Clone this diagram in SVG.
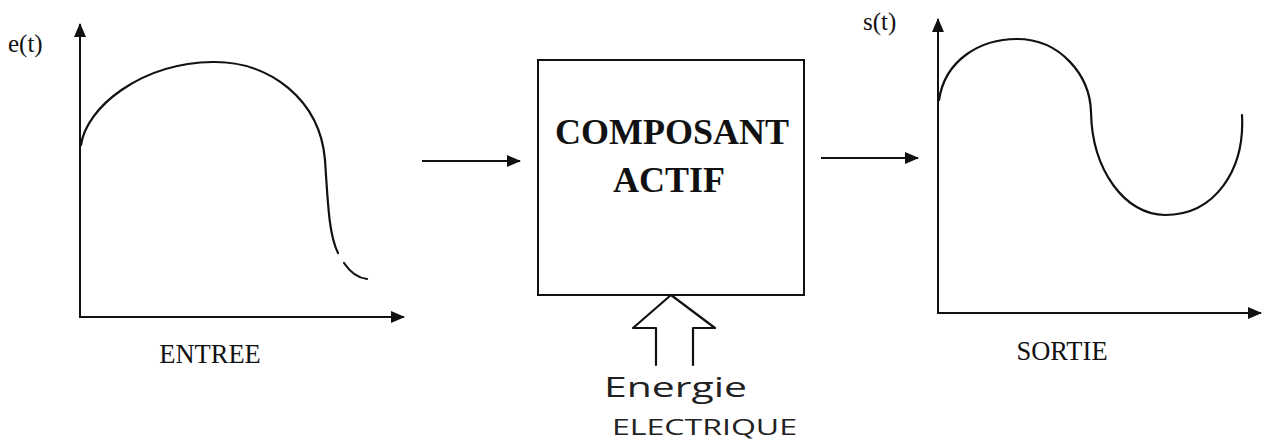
<svg xmlns="http://www.w3.org/2000/svg" width="1265" height="442" viewBox="0 0 1265 442">
  <style>
    .ln{fill:none;stroke:#111;stroke-width:2.2;stroke-linecap:round;stroke-linejoin:round}
    .ax{fill:none;stroke:#111;stroke-width:2}
    .serif{font-family:"Liberation Serif","Times New Roman",serif;fill:#111}
    .hand{font-family:"Open Sans","DejaVu Sans",sans-serif;fill:#222}
  </style>
  <defs>
    <marker id="ah" viewBox="0 0 14 12" refX="13" refY="6" markerWidth="14" markerHeight="12" markerUnits="userSpaceOnUse" orient="auto">
      <path d="M0,0 L14,6 L0,12 Z" fill="#111"/>
    </marker>
  </defs>
  <rect width="1265" height="442" fill="#fff"/>

  <g id="entree-graph">
    <line class="ax" x1="80" y1="318" x2="80" y2="24" marker-end="url(#ah)"/>
    <line class="ax" x1="80" y1="317" x2="404" y2="317" marker-end="url(#ah)"/>
    <text class="serif" x="8" y="52" font-size="25">e(t)</text>
    <path class="ln" d="M81,145 C86,108 140,63 213,62 C270,61 320,100 325,160 C328,205 329,235 338,253"/>
    <path class="ln" d="M344,263 C350,272 358,278 367,279"/>
    <text class="serif" x="210" y="363" font-size="26.5" text-anchor="middle">ENTREE</text>
  </g>

  <g id="composant">
    <rect x="538" y="60" width="266" height="235" fill="none" stroke="#111" stroke-width="2"/>
    <text class="serif" x="672" y="144" font-size="36" font-weight="bold" text-anchor="middle">COMPOSANT</text>
    <text class="serif" x="669" y="192" font-size="36" font-weight="bold" text-anchor="middle">ACTIF</text>
  </g>

  <g id="energie">
    <path class="ln" stroke-width="1.8" d="M656,365 L656,328 L633,328 L671,295 L715,328 L693,328 L693,365"/>
    <text class="hand" x="604" y="397" font-size="27" textLength="143" lengthAdjust="spacingAndGlyphs">Energie</text>
    <text class="hand" x="612" y="435" font-size="22" textLength="185" lengthAdjust="spacingAndGlyphs">ELECTRIQUE</text>
  </g>

  <g id="sortie-graph">
    <line class="ax" x1="938" y1="314" x2="938" y2="19" marker-end="url(#ah)"/>
    <line class="ax" x1="938" y1="313" x2="1261" y2="313" marker-end="url(#ah)"/>
    <text class="serif" x="863" y="30" font-size="25">s(t)</text>
    <path class="ln" d="M939,100 C945,60 980,39 1017,39 C1060,39 1090,75 1091,112 C1092,170 1125,215 1165,215 C1215,215 1245,170 1242,115"/>
    <text class="serif" x="1062" y="360" font-size="26.5" text-anchor="middle">SORTIE</text>
  </g>

  <g id="connectors">
    <line class="ax" x1="422" y1="161" x2="520" y2="161" marker-end="url(#ah)"/>
    <line class="ax" x1="821" y1="158" x2="918" y2="158" marker-end="url(#ah)"/>
  </g>
</svg>
